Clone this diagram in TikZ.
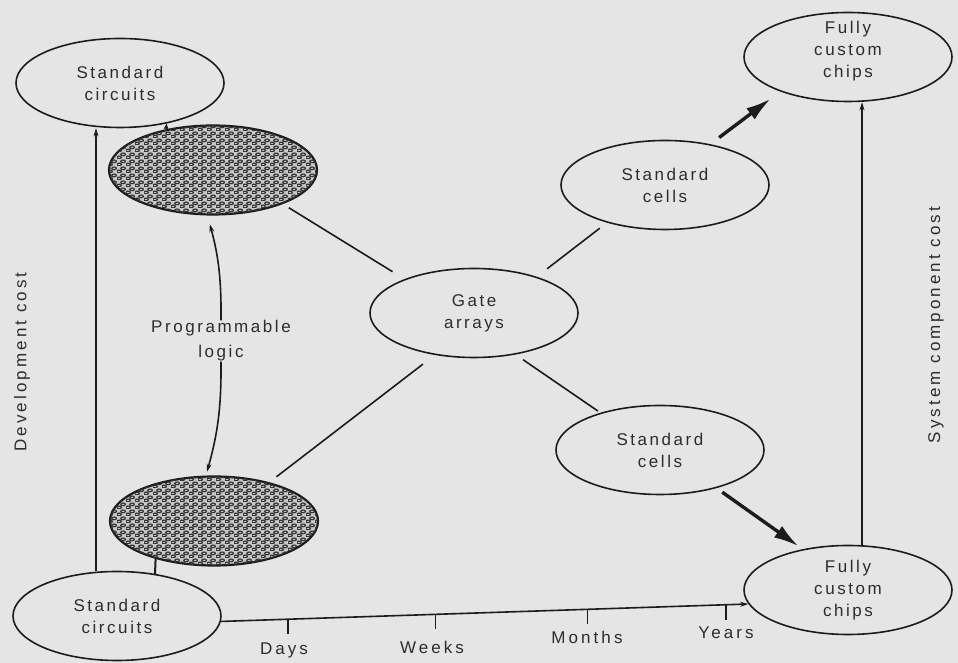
\documentclass[tikz,border=0pt]{standalone}
\usepackage{fontspec}
\setmainfont[LetterSpace=15]{Liberation Sans}
\newfontfamily\axisfont[LetterSpace=18]{Liberation Sans}
\usetikzlibrary{shapes.geometric,arrows.meta,patterns}
\definecolor{bg}{RGB}{229,229,229}
\definecolor{ink}{RGB}{28,28,28}
\definecolor{txt}{RGB}{45,45,45}
\pgfdeclarepatternformonly{scales}{\pgfpointorigin}{\pgfqpoint{9pt}{7pt}}{\pgfqpoint{9pt}{7pt}}{%
  \pgfsetlinewidth{1.3pt}%
  \pgfpathellipse{\pgfqpoint{2.25pt}{1.75pt}}{\pgfqpoint{2.6pt}{0pt}}{\pgfqpoint{0pt}{1.5pt}}%
  \pgfpathellipse{\pgfqpoint{6.75pt}{5.25pt}}{\pgfqpoint{2.6pt}{0pt}}{\pgfqpoint{0pt}{1.5pt}}%
  \pgfusepath{stroke}}
\begin{document}
\begin{tikzpicture}[x=1pt,y=1pt,
  oval/.style={ellipse, draw=ink, line width=1.6pt, minimum width=208pt, minimum height=89pt, inner sep=0pt},
  hatch/.style={oval, line width=2.2pt, fill=black!22, postaction={pattern=scales, pattern color=black!80}},
  lbl/.style={font=\fontsize{17}{22}\selectfont, text=txt, align=center, inner sep=0pt},
  axlbl/.style={font=\axisfont\fontsize{17}{20}\selectfont, text=txt, inner sep=0pt},
  link/.style={draw=ink, line width=1.6pt},
  thinarrow/.style={link, -{Stealth[length=8pt,width=5pt]}},
  boldarrow/.style={draw=ink, line width=3.4pt, -{Latex[length=25pt,width=14pt]}}
]
\path[fill=bg] (0,0) rectangle (958,663);
% ellipses
\node[oval, label={[lbl]center:Standard\\circuits}] (tl) at (120,580) {};
\node[hatch] (ht) at (213,493) {};
\node[hatch] (hb) at (214,142) {};
\node[oval, label={[lbl]center:Standard\\circuits}] (bl) at (117,47) {};
\node[oval, label={[lbl]center:Gate\\arrays}] (ga) at (474,350) {};
\node[oval, label={[lbl]center:Standard\\cells}] (scu) at (665,478) {};
\node[oval, label={[lbl, yshift=6pt]center:Fully\\custom\\chips}] (fct) at (848,606) {};
\node[oval, label={[lbl]center:Standard\\cells}] (scl) at (660,213) {};
\node[oval, label={[lbl]center:Fully\\custom\\chips}] (fcb) at (848,73) {};
\node[lbl, font=\fontsize{17}{25}\selectfont] (pl) at (221,322) {Programmable\\logic};
% axis labels
\node[axlbl, rotate=90] (dev) at (22,301) {Development cost};
\node[axlbl, rotate=90] (sys) at (936,338) {System component cost};
% vertical axes
\coordinate (lx) at (96,0);
\coordinate (rx) at (862,0);
\draw[thinarrow] (bl.north -| lx) -- (tl.south -| lx);
\draw[thinarrow] (fcb.north -| rx) -- (fct.south -| rx);
% time axis
\draw[thinarrow] (bl.-3) -- (fcb.188)
  coordinate[pos=0.127] (t1) coordinate[pos=0.407] (t2)
  coordinate[pos=0.695] (t3) coordinate[pos=0.958] (t4);
\foreach \t in {t1,t2,t3,t4} \draw[link] (\t) -- ++(0,-15);
\node[axlbl] (days) at (284,13) {Days};
\node[axlbl] (weeks) at (432,16) {Weeks};
\node[axlbl] (months) at (587,26) {Months};
\node[axlbl] (years) at (726,30) {Years};
% links to gate arrays
\draw[link, shorten <=7pt, shorten >=14pt] (ht.-26) -- (ga.154.5);
\draw[link, shorten <=13pt, shorten >=9pt] (ga.30.7) -- (scu.213.9);
\draw[link, shorten <=15pt, shorten >=9pt] (ga.227.8) -- (hb.35.2);
\draw[link, shorten <=9pt, shorten >=3pt] (ga.-45.6) -- (scl.148.5);
% bold arrows
\draw[boldarrow, shorten <=11pt, shorten >=12pt] (scu.42.7) -- (fct.207.1);
\draw[boldarrow, shorten <=7pt, shorten >=5pt] (scl.-34.5) -- (fcb.138);
% programmable logic arrows
\draw[thinarrow, shorten >=9pt] (pl.north) to[bend right=8] (ht.263);
\draw[thinarrow, shorten >=4pt] (pl.south) to[bend left=8] (hb.100);
% small stubs
\draw[link, -{Stealth[length=6pt,width=5pt]}] (ht.139.7) -- (tl.-41);
\draw[link, line width=2pt] (hb.213) -- (bl.48.5);
\end{tikzpicture}
\end{document}
